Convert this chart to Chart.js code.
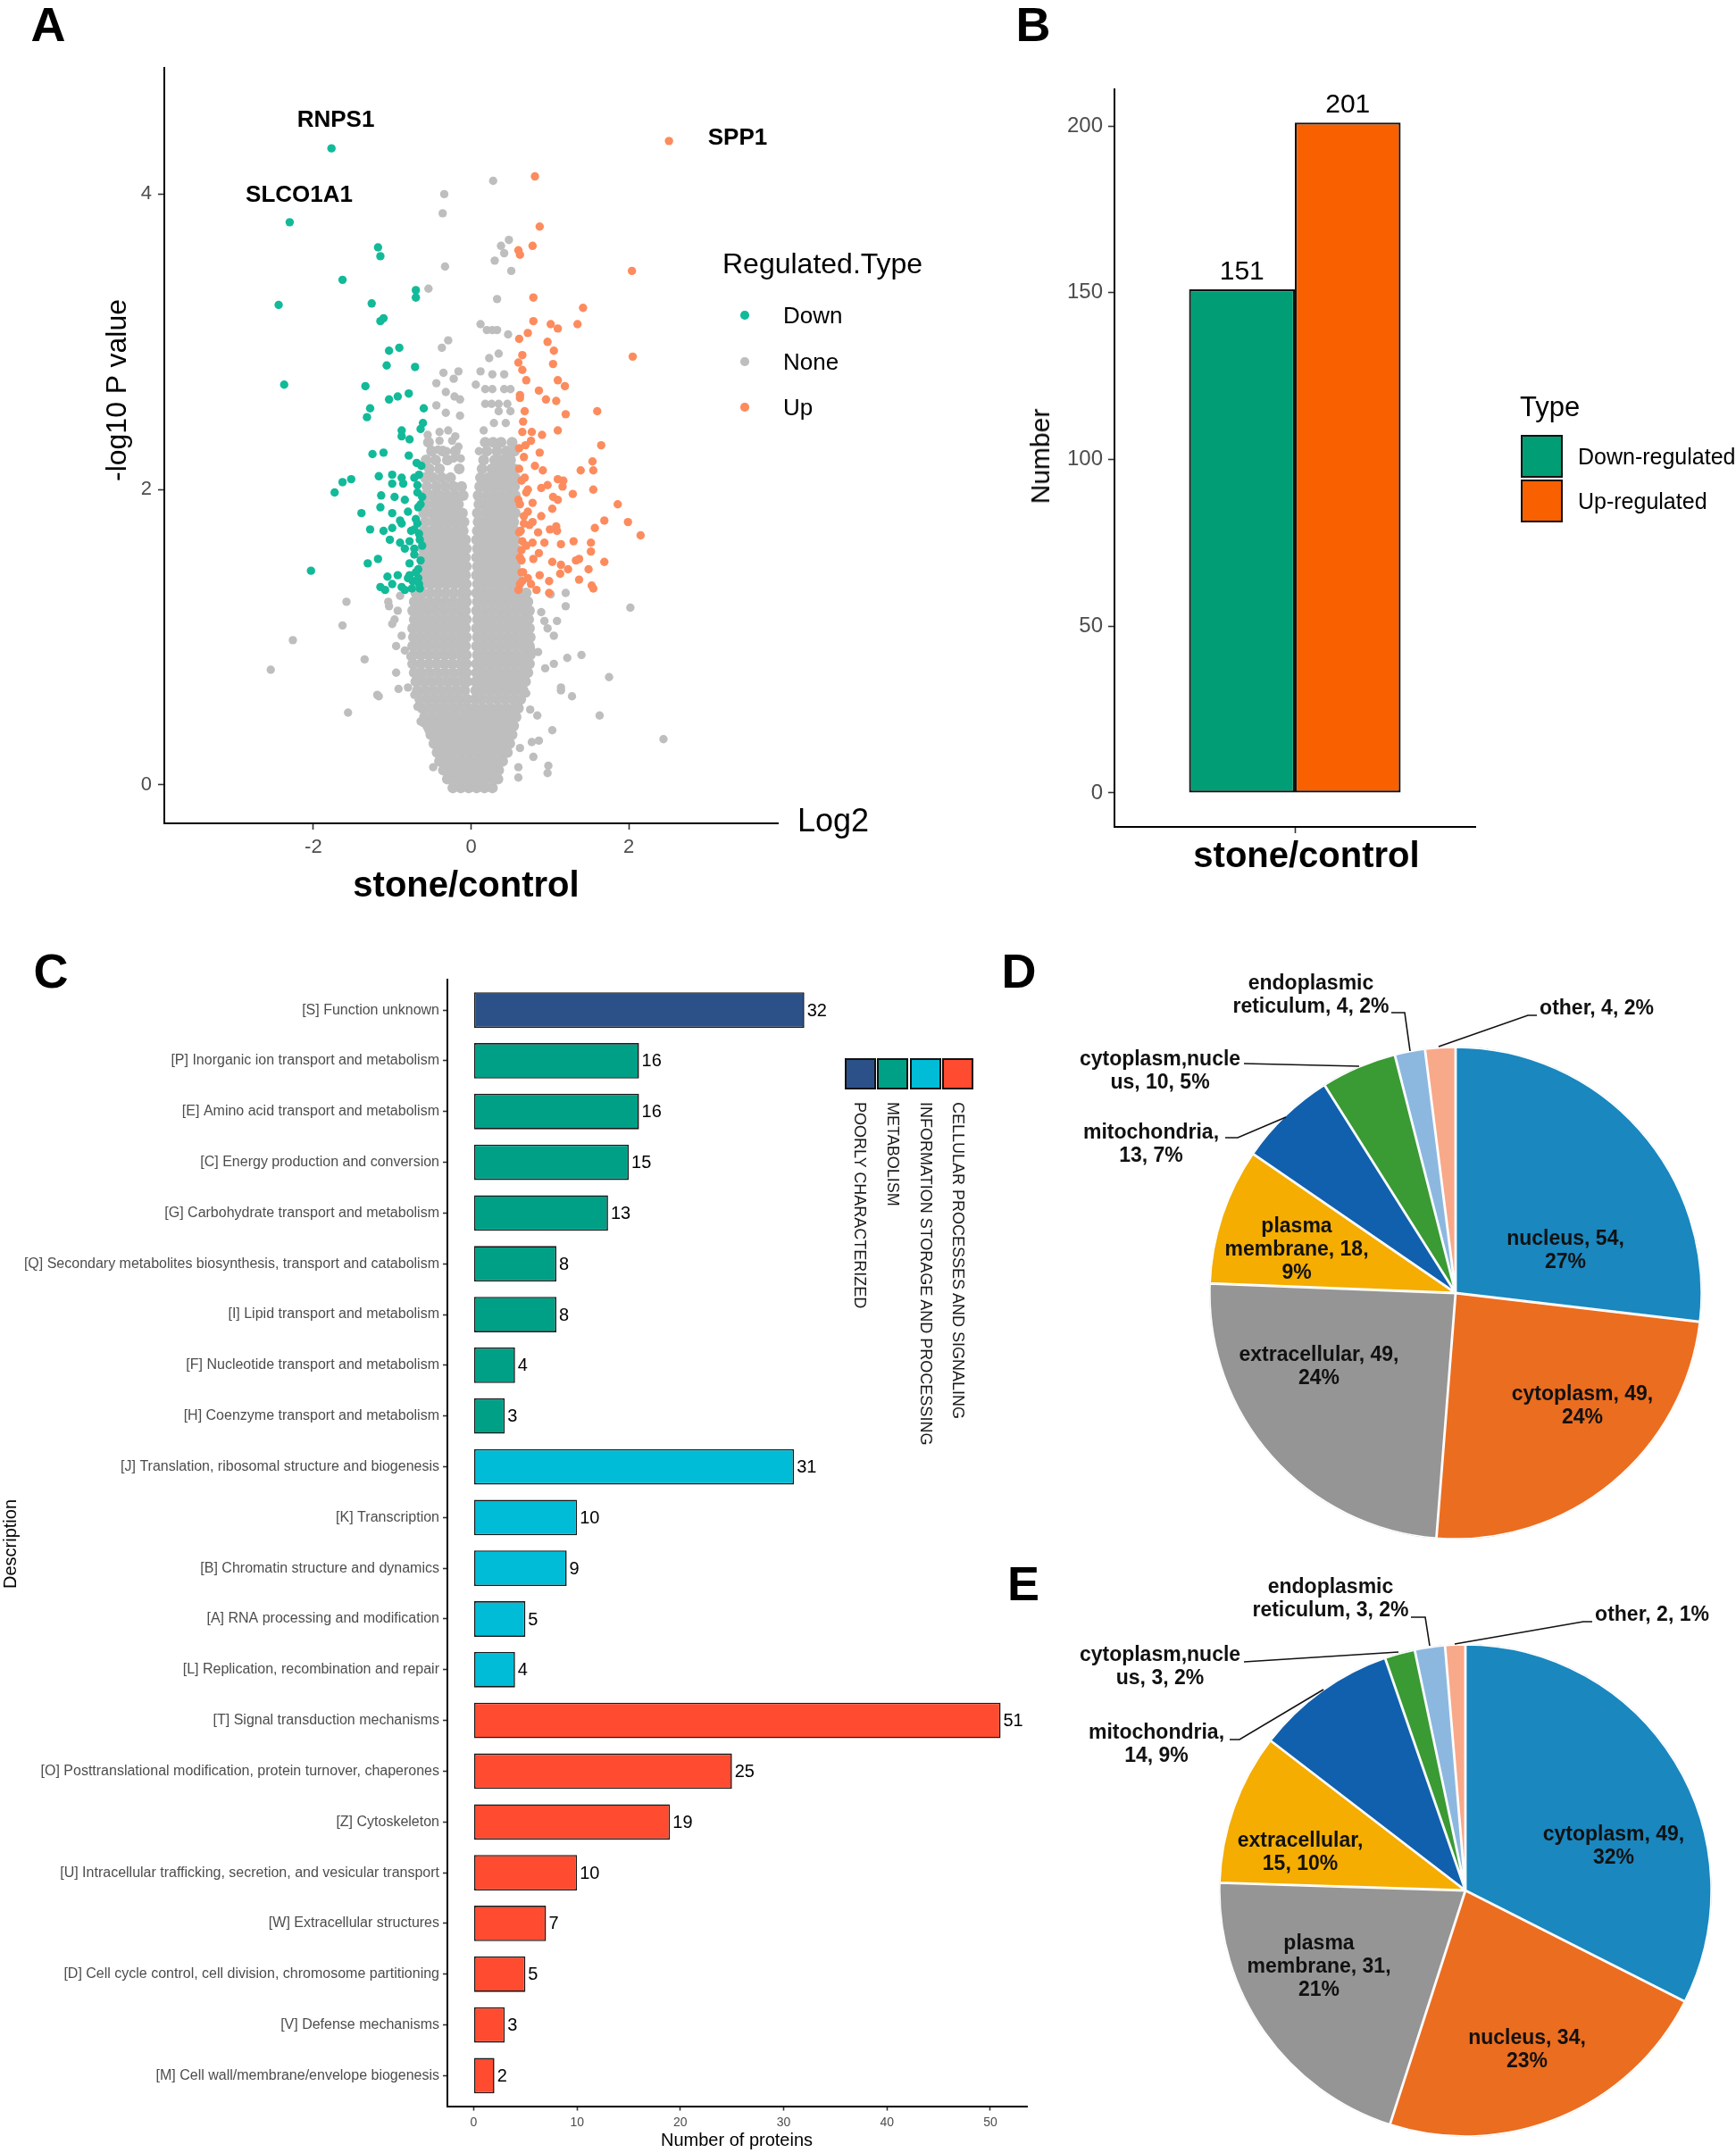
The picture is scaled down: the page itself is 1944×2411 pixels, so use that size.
<!DOCTYPE html>
<html><head><meta charset="utf-8"><title>Figure</title>
<script src="https://cdn.jsdelivr.net/npm/chart.js@4.4.1/dist/chart.umd.min.js"></script>
<style>
html,body{margin:0;padding:0;background:#fff}
#page{position:relative;width:1944px;height:2411px;overflow:hidden;background:#fff;font-family:"Liberation Sans",Arial,sans-serif}
#page canvas{position:absolute}
.t{position:absolute;white-space:pre;line-height:1}
.sq{position:absolute;box-sizing:border-box}
</style></head><body>
<div id="page">
<canvas id="cA" width="1077" height="1015" style="left:0;top:0;width:1077px;height:1015px"></canvas>
<canvas id="cB" width="867" height="1015" style="left:1077px;top:0;width:867px;height:1015px"></canvas>
<canvas id="cC" width="1170" height="1350" style="left:0;top:1061px;width:1170px;height:1350px"></canvas>
<canvas id="cD" width="774" height="677" style="left:1170px;top:1061px;width:774px;height:677px"></canvas>
<canvas id="cE" width="774" height="673" style="left:1170px;top:1738px;width:774px;height:673px"></canvas>
</div>
<script>
// ================= DATA =================
// Panel A: volcano plot (log2 fold change, -log10 p)
const regTypes = ['Down', 'None', 'Up'];
const volcanoXTicks = [-2, 0, 2];
const volcanoYTicks = [0, 2, 4];
const geneLabels = ['RNPS1', 'SLCO1A1', 'SPP1'];
const downPts = [[-1.77,4.31],[-2.30,3.81],[-1.18,3.64],[-1.15,3.58],[-1.63,3.42],[-2.44,3.25],[-1.26,3.26],[-0.70,3.35],[-0.70,3.30],[-1.11,3.16],[-1.15,3.14],[-0.91,2.96],[-1.04,2.94],[-1.07,2.84],[-0.71,2.83],[-2.37,2.71],[-1.34,2.70],[-0.93,2.63],[-1.04,2.61],[-0.79,2.65],[-1.28,2.55],[-1.32,2.49],[-0.60,2.55],[-0.61,2.45],[-0.64,2.41],[-0.88,2.40],[-0.88,2.36],[-0.78,2.34],[-1.25,2.24],[-1.11,2.25],[-0.79,2.23],[-0.69,2.18],[-1.52,2.07],[-1.63,2.05],[-1.73,1.98],[-1.17,2.09],[-1.00,2.10],[-0.88,2.08],[-0.66,2.10],[-1.00,2.04],[-0.86,2.04],[-0.68,2.03],[-1.14,1.96],[-0.97,1.95],[-0.84,1.93],[-0.62,1.95],[-1.15,1.88],[-1.39,1.84],[-1.00,1.84],[-0.80,1.85],[-0.67,1.88],[-0.90,1.79],[-0.88,1.77],[-0.68,1.77],[-1.28,1.73],[-1.11,1.72],[-1.00,1.74],[-0.72,1.73],[-1.03,1.66],[-0.90,1.64],[-0.78,1.65],[-0.65,1.66],[-1.18,1.53],[-1.31,1.50],[-0.84,1.60],[-0.72,1.56],[-2.03,1.45],[-0.78,1.50],[-0.67,1.46],[-1.06,1.41],[-0.93,1.42],[-0.80,1.40],[-0.67,1.40],[-1.15,1.34],[-1.00,1.36],[-0.88,1.34],[-0.75,1.33],[-0.65,1.33],[-1.09,1.32],[-0.84,1.32],[-0.66,1.36],[-0.70,1.44],[-0.64,1.52],[-0.72,1.60],[-0.66,1.70],[-0.70,1.80],[-0.64,1.90],[-0.68,1.98],[-0.72,2.08],[-0.63,2.16],[-0.74,1.38],[-0.78,1.42],[-0.62,1.62],[-0.76,1.72]];
const upPts = [[2.51,4.36],[0.81,4.12],[0.87,3.78],[0.78,3.65],[0.60,3.62],[0.62,3.59],[2.04,3.48],[0.79,3.30],[1.42,3.23],[0.79,3.14],[1.01,3.12],[1.35,3.12],[1.10,3.09],[0.72,3.06],[0.61,3.02],[0.97,3.00],[0.65,2.91],[1.05,2.94],[2.05,2.90],[0.60,2.86],[1.04,2.85],[0.65,2.81],[0.70,2.74],[1.10,2.74],[1.19,2.70],[0.86,2.67],[1.08,2.60],[0.62,2.64],[0.95,2.61],[0.68,2.53],[1.20,2.51],[1.60,2.53],[0.65,2.39],[0.77,2.39],[0.90,2.37],[1.10,2.40],[0.76,2.33],[0.87,2.25],[1.65,2.30],[0.67,2.22],[0.81,2.16],[1.54,2.19],[0.61,2.14],[0.91,2.13],[1.39,2.13],[1.55,2.13],[0.68,2.08],[1.10,2.07],[1.17,2.06],[0.72,2.00],[0.89,2.01],[0.97,2.03],[1.16,2.02],[1.29,1.97],[1.55,2.00],[0.60,1.93],[0.78,1.91],[1.04,1.95],[1.10,1.93],[1.03,1.87],[0.72,1.85],[0.89,1.82],[1.86,1.90],[0.67,1.77],[0.78,1.78],[1.08,1.75],[1.69,1.79],[1.99,1.78],[0.61,1.71],[0.85,1.71],[1.00,1.73],[1.09,1.72],[1.30,1.65],[2.15,1.69],[1.57,1.74],[0.65,1.65],[0.78,1.64],[0.93,1.64],[1.14,1.63],[1.52,1.64],[0.64,1.59],[0.86,1.57],[1.52,1.58],[1.33,1.52],[1.69,1.51],[0.64,1.52],[0.79,1.53],[1.03,1.51],[1.14,1.49],[1.23,1.46],[1.37,1.53],[1.49,1.46],[0.64,1.44],[0.87,1.42],[1.13,1.43],[0.65,1.38],[0.76,1.36],[0.99,1.38],[1.53,1.35],[1.55,1.33],[0.60,1.32],[0.83,1.32],[1.37,1.39],[0.99,1.30],[0.62,1.36],[0.66,1.44],[0.62,1.54],[0.70,1.62],[0.63,1.72],[0.67,1.82],[0.62,1.90],[0.70,1.98],[0.64,2.06],[0.61,2.28],[0.66,2.46],[0.72,1.40],[0.74,1.76],[0.69,2.30],[0.62,2.62]];
// non-significant proteins: scattered points
const noneScatter = [[-0.34,4.00],[-0.36,3.87],[0.28,4.09],[-0.33,3.51],[0.48,3.69],[0.38,3.65],[0.42,3.60],[0.30,3.55],[0.51,3.48],[-0.54,3.36],[0.33,3.29],[0.12,3.12],[0.20,3.08],[0.27,3.08],[0.33,3.08],[0.47,3.05],[-0.29,3.01],[-0.37,2.96],[0.23,2.89],[0.35,2.92],[-0.35,2.79],[-0.16,2.80],[-0.44,2.72],[-0.22,2.75],[0.12,2.80],[0.27,2.78],[0.42,2.78],[0.06,2.71],[0.18,2.68],[0.27,2.68],[0.42,2.68],[0.50,2.68],[-0.32,2.66],[-0.21,2.63],[-0.14,2.61],[-0.44,2.57],[0.18,2.58],[0.26,2.58],[0.35,2.58],[0.46,2.58],[-0.32,2.52],[-0.14,2.50],[0.35,2.53],[0.50,2.53],[0.16,2.40],[-0.40,2.39],[-0.29,2.40],[-0.20,2.36],[-0.55,2.37],[-0.24,2.33],[-0.16,2.29],[0.29,2.45],[0.44,2.45],[-0.40,2.33],[-0.51,2.27],[-0.42,2.27],[0.10,2.26],[-0.31,2.26],[-0.22,2.21],[-0.13,2.21],
 [-1.58,1.24],[-1.63,1.08],[-2.26,0.98],[-2.54,0.78],[-1.35,0.85],[-1.56,0.49],[2.02,1.20],[1.75,0.73],[1.40,0.88],[1.63,0.47],[2.44,0.31],[0.97,0.08],[1.28,0.60],[1.14,0.66],[-1.19,0.61],[-1.04,1.21],[-1.00,1.09],[0.79,0.19],[0.60,0.05],[-0.61,0.42],
 [-1.17,0.60],[-0.95,0.76],[-0.95,0.94],[-0.97,1.12],[-0.93,1.18],[-1.05,1.24],[-0.90,1.28],[-0.88,1.01],[-0.84,0.91],[-0.77,0.87],[-0.92,0.65],[-0.80,0.66],[-0.72,0.61],[-0.68,0.53],[-0.64,0.43],[-0.54,0.37],[-0.48,0.12],[-0.40,0.16],[1.01,1.29],[1.20,1.30],[1.20,1.21],[1.09,1.11],[0.97,1.06],[1.05,1.01],[1.22,0.86],[0.94,0.79],[1.05,0.82],[1.14,0.64],[1.03,0.37],[0.75,0.51],[0.84,0.47],[0.77,0.29],[0.86,0.30],[0.60,0.12],[0.98,0.13],[0.62,0.25],[0.70,0.62],[0.89,1.17],[0.93,1.11],[0.76,0.92],[0.85,0.90]];
// non-significant proteins: dense core, one row per -log10 p level
const noneRows = [
 [-0.02,[-0.23,-0.13,-0.03,0.07,0.17,0.27]],
 [0.04,[-0.30,-0.20,-0.10,0,0.10,0.20,0.30,0.34]],
 [0.10,[-0.35,-0.25,-0.15,-0.05,0.05,0.15,0.25,0.35]],
 [0.16,[-0.40,-0.30,-0.20,-0.10,0,0.10,0.20,0.30,0.40]],
 [0.22,[-0.43,-0.33,-0.23,-0.13,-0.03,0.07,0.17,0.27,0.37,0.46]],
 [0.28,[-0.47,-0.37,-0.27,-0.17,-0.07,0.03,0.13,0.23,0.33,0.43,0.49]],
 [0.34,[-0.51,-0.41,-0.31,-0.21,-0.11,-0.01,0.09,0.19,0.29,0.39,0.49,0.52]],
 [0.40,[-0.55,-0.45,-0.35,-0.25,-0.15,-0.05,0.05,0.15,0.25,0.35,0.45,0.54]],
 [0.46,[-0.59,-0.49,-0.39,-0.29,-0.19,-0.09,0.01,0.11,0.21,0.31,0.41,0.51,0.57]],
 [0.52,[-0.62,-0.52,-0.42,-0.32,-0.22,-0.12,-0.04,0.05,0.15,0.25,0.35,0.45,0.55,0.60]],
 [0.58,[-0.65,-0.55,-0.45,-0.35,-0.25,-0.15,-0.05,0.05,0.13,0.23,0.33,0.43,0.53,0.63]],
 [0.64,[-0.68,-0.58,-0.48,-0.38,-0.28,-0.18,-0.08,0.06,0.16,0.26,0.36,0.46,0.56,0.66]],
 [0.70,[-0.70,-0.60,-0.50,-0.40,-0.30,-0.20,-0.10,-0.05,0.06,0.12,0.22,0.32,0.42,0.52,0.62,0.69]],
 [0.76,[-0.72,-0.63,-0.53,-0.43,-0.33,-0.23,-0.13,-0.06,0.07,0.17,0.27,0.37,0.47,0.57,0.67,0.72]],
 [0.82,[-0.74,-0.64,-0.54,-0.44,-0.34,-0.24,-0.14,-0.06,0.07,0.14,0.24,0.34,0.44,0.54,0.64,0.74]],
 [0.88,[-0.73,-0.63,-0.53,-0.43,-0.33,-0.23,-0.13,-0.06,0.08,0.18,0.28,0.38,0.48,0.58,0.68,0.75]],
 [0.94,[-0.74,-0.66,-0.56,-0.46,-0.36,-0.26,-0.16,-0.07,0.07,0.15,0.25,0.35,0.45,0.55,0.65,0.74]],
 [1.00,[-0.73,-0.63,-0.53,-0.43,-0.33,-0.23,-0.13,-0.06,0.08,0.18,0.28,0.38,0.48,0.58,0.68,0.75]],
 [1.06,[-0.74,-0.66,-0.56,-0.46,-0.36,-0.26,-0.16,-0.07,0.07,0.15,0.25,0.35,0.45,0.55,0.65,0.74]],
 [1.12,[-0.72,-0.63,-0.53,-0.43,-0.33,-0.23,-0.13,-0.06,0.08,0.18,0.28,0.38,0.48,0.58,0.68,0.73]],
 [1.18,[-0.74,-0.66,-0.56,-0.46,-0.36,-0.26,-0.16,-0.07,0.07,0.15,0.25,0.35,0.45,0.55,0.65,0.74]],
 [1.24,[-0.72,-0.63,-0.53,-0.43,-0.33,-0.23,-0.13,-0.06,0.08,0.18,0.28,0.38,0.48,0.58,0.68,0.72]],
 [1.30,[-0.70,-0.62,-0.52,-0.42,-0.32,-0.22,-0.12,-0.06,0.07,0.14,0.24,0.34,0.44,0.54,0.64,0.70]],
 [1.36,[-0.61,-0.51,-0.41,-0.31,-0.21,-0.11,-0.06,0.08,0.18,0.28,0.38,0.48,0.56]],
 [1.42,[-0.62,-0.56,-0.46,-0.36,-0.26,-0.16,-0.07,0.07,0.13,0.23,0.33,0.43,0.53,0.57]],
 [1.48,[-0.61,-0.51,-0.41,-0.31,-0.21,-0.11,-0.06,0.08,0.18,0.28,0.38,0.48,0.56]],
 [1.54,[-0.62,-0.56,-0.46,-0.36,-0.26,-0.16,-0.07,0.07,0.13,0.23,0.33,0.43,0.53,0.57]],
 [1.60,[-0.61,-0.51,-0.41,-0.31,-0.21,-0.11,-0.06,0.08,0.18,0.28,0.38,0.48,0.56]],
 [1.66,[-0.60,-0.55,-0.45,-0.35,-0.25,-0.15,-0.07,0.07,0.13,0.23,0.33,0.43,0.53,0.56]],
 [1.72,[-0.60,-0.50,-0.40,-0.30,-0.20,-0.10,0.08,0.18,0.28,0.38,0.48,0.56]],
 [1.78,[-0.58,-0.47,-0.37,-0.27,-0.17,-0.09,0.09,0.14,0.24,0.34,0.44,0.54]],
 [1.84,[-0.60,-0.50,-0.40,-0.30,-0.20,-0.11,0.08,0.19,0.29,0.39,0.49,0.56]],
 [1.90,[-0.57,-0.46,-0.36,-0.26,-0.16,0.10,0.15,0.25,0.35,0.45,0.55]],
 [1.96,[-0.59,-0.50,-0.40,-0.30,-0.20,-0.10,0.09,0.20,0.30,0.40,0.50,0.56]],
 [2.02,[-0.56,-0.44,-0.33,-0.22,-0.12,0.11,0.17,0.27,0.37,0.47,0.55]],
 [2.08,[-0.58,-0.48,-0.37,-0.26,0.12,0.22,0.32,0.42,0.52,0.56]],
 [2.14,[-0.53,-0.40,-0.15,0.14,0.26,0.36,0.46,0.55]],
 [2.20,[-0.57,-0.45,-0.30,0.16,0.30,0.40,0.50]],
 [2.26,[-0.50,-0.36,-0.20,0.20,0.33,0.45,0.55]],
 [2.32,[-0.54,0.18,0.28,0.38,0.52]]
];

// Panel B: counts of regulated proteins
const regCategories = ['stone/control'];
const regSeries = ['Down-regulated', 'Up-regulated'];
const regCounts = [151, 201];
const regYTicks = [0, 50, 100, 150, 200];

// Panel C: COG classification
const cogLabels = ['[S] Function unknown','[P] Inorganic ion transport and metabolism','[E] Amino acid transport and metabolism','[C] Energy production and conversion','[G] Carbohydrate transport and metabolism','[Q] Secondary metabolites biosynthesis, transport and catabolism','[I] Lipid transport and metabolism','[F] Nucleotide transport and metabolism','[H] Coenzyme transport and metabolism','[J] Translation, ribosomal structure and biogenesis','[K] Transcription','[B] Chromatin structure and dynamics','[A] RNA processing and modification','[L] Replication, recombination and repair','[T] Signal transduction mechanisms','[O] Posttranslational modification, protein turnover, chaperones','[Z] Cytoskeleton','[U] Intracellular trafficking, secretion, and vesicular transport','[W] Extracellular structures','[D] Cell cycle control, cell division, chromosome partitioning','[V] Defense mechanisms','[M] Cell wall/membrane/envelope biogenesis'];
const cogValues = [32,16,16,15,13,8,8,4,3,31,10,9,5,4,51,25,19,10,7,5,3,2];
const cogGroup = [0,1,1,1,1,1,1,1,1,2,2,2,2,2,3,3,3,3,3,3,3,3];
const cogGroupNames = ['POORLY CHARACTERIZED','METABOLISM','INFORMATION STORAGE AND PROCESSING','CELLULAR PROCESSES AND SIGNALING'];
const cogXTicks = [0, 10, 20, 30, 40, 50];

// Panel D: subcellular localization
const locNamesD = ['nucleus','cytoplasm','extracellular','plasma\nmembrane','mitochondria','cytoplasm,nucle\nus','endoplasmic\nreticulum','other'];
const locValuesD = [54, 49, 49, 18, 13, 10, 4, 4];
const locPctD = [27, 24, 24, 9, 7, 5, 2, 2];
// Panel E
const locNamesE = ['cytoplasm','nucleus','plasma\nmembrane','extracellular','mitochondria','cytoplasm,nucle\nus','endoplasmic\nreticulum','other'];
const locValuesE = [49, 34, 31, 15, 14, 3, 3, 2];
const locPctE = [32, 23, 21, 10, 9, 2, 2, 1];

// ================= STYLE =================
const F = '"Liberation Sans", Arial, sans-serif';
const COL = {
  down: '#12BA99', none: '#BEBEBE', up: '#FC8C5E',
  reg: ['#019E76', '#F86000'],
  cog: ['#2C5189', '#00A087', '#00BCD6', '#FF4B30'],
  pie: ['#1A87BF', '#EB6D20', '#959595', '#F4AD00', '#1160AE', '#3A9A34', '#8CB8E0', '#F8A98A']
};
Chart.defaults.font.family = F;
const page = document.getElementById('page');

function T(text, x, y, o = {}) {
  const d = document.createElement('div');
  d.className = 't';
  d.textContent = text;
  d.style.left = x + 'px';
  d.style.top = y + 'px';
  d.style.fontSize = (o.size || 20) + 'px';
  if (o.bold) d.style.fontWeight = 'bold';
  d.style.color = o.color || '#000';
  const ax = o.align === 'left' ? '0%' : (o.align === 'right' ? '-100%' : '-50%');
  d.style.transform = 'translate(' + ax + ',-50%)' + (o.rot ? ' rotate(' + o.rot + 'deg)' : '');
  page.appendChild(d);
  return d;
}
function SQ(x, y, w, h, bg, border, round) {
  const d = document.createElement('div');
  d.className = 'sq';
  Object.assign(d.style, {left: x + 'px', top: y + 'px', width: w + 'px', height: h + 'px', background: bg});
  if (border) d.style.border = border;
  if (round) d.style.borderRadius = '50%';
  page.appendChild(d);
}
function axis(fs, pad, tl, extra) {
  return Object.assign({
    border: {display: true, color: '#000', width: 2},
    grid: {display: true, drawOnChartArea: false, drawTicks: true, tickLength: tl, tickColor: '#333', tickWidth: 1.6},
    ticks: {color: '#4d4d4d', font: {size: fs, family: F}, padding: pad, maxRotation: 0, autoSkip: false}
  }, extra);
}
const fixedTicks = arr => s => { s.ticks = arr.map(v => ({value: v})); };

const barValues = {
  id: 'barValues',
  afterDatasetsDraw(chart, args, o) {
    const ctx = chart.ctx; ctx.save();
    ctx.font = o.fontStr; ctx.fillStyle = '#000';
    chart.data.datasets.forEach((ds, di) => {
      chart.getDatasetMeta(di).data.forEach((el, i) => {
        const raw = ds.data[i]; const v = (typeof raw === 'object') ? raw.x : raw;
        if (o.horizontal) { ctx.textAlign = 'left'; ctx.textBaseline = 'middle'; ctx.fillText(String(v), el.x + o.offset, el.y + 1); }
        else { ctx.textAlign = 'center'; ctx.textBaseline = 'alphabetic'; ctx.fillText(String(v), el.x, el.y - o.offset); }
      });
    });
    ctx.restore();
  }
};

const pieLabels = {
  id: 'pieLabels',
  afterDraw(chart, args, o) {
    const arc = chart.getDatasetMeta(0).data[0];
    const cx = arc.x, cy = arc.y, ctx = chart.ctx;
    ctx.save();
    ctx.strokeStyle = '#111'; ctx.lineWidth = 1.6;
    o.leaders.forEach(pts => {
      ctx.beginPath();
      pts.forEach(([x, y], i) => i ? ctx.lineTo(cx + x, cy + y) : ctx.moveTo(cx + x, cy + y));
      ctx.stroke();
    });
    ctx.font = 'bold 23px ' + F; ctx.fillStyle = '#111';
    ctx.textAlign = 'center'; ctx.textBaseline = 'middle';
    const names = chart.data.labels, vals = chart.data.datasets[0].data;
    o.pos.forEach((p, i) => {
      const n = names[i], v = vals[i], pc = o.pct[i];
      let s;
      if (p.form === 'A') s = n + ', ' + v + ',\n' + pc + '%';
      else if (p.form === 'B') s = n + ',\n' + v + ', ' + pc + '%';
      else s = n + ', ' + v + ', ' + pc + '%';
      s.split('\n').forEach((ln, k) => ctx.fillText(ln, cx + p.x, cy + p.y + k * o.lh));
    });
    ctx.restore();
  }
};

// ================= PANEL A =================
const pt = a => ({x: a[0], y: a[1]});
const noneCore = [].concat(...noneRows.map(([y, xs]) => xs.map(x => [x, y])));
new Chart(document.getElementById('cA'), {
  type: 'scatter',
  data: {datasets: [
    {label: regTypes[0], data: downPts.map(pt), backgroundColor: COL.down, pointRadius: 4.7, borderWidth: 0, order: 1},
    {label: regTypes[2], data: upPts.map(pt), backgroundColor: COL.up, pointRadius: 4.7, borderWidth: 0, order: 1},
    {label: regTypes[1], data: noneScatter.map(pt), backgroundColor: COL.none, pointRadius: 4.7, borderWidth: 0, order: 2},
    {label: regTypes[1], data: noneCore.map(pt), backgroundColor: COL.none, pointRadius: 6.1, borderWidth: 0, order: 3}
  ]},
  options: {
    responsive: false, animation: false, devicePixelRatio: 1,
    layout: {padding: {left: 0, top: 76, right: 206, bottom: 0}},
    plugins: {legend: {display: false}, tooltip: {enabled: false}},
    scales: {
      x: axis(22, 7, 7, {type: 'linear', min: -3.89, max: 3.89, afterBuildTicks: fixedTicks(volcanoXTicks), afterFit: s => { s.height = 93; }}),
      y: axis(22, 7, 7, {type: 'linear', min: -0.26, max: 4.855, afterBuildTicks: fixedTicks(volcanoYTicks), afterFit: s => { s.width = 184; }})
    }
  }
});
T('A', 54, 27, {size: 54, bold: true});
T('-log10 P value', 130, 437, {size: 32, rot: -90});
T('stone/control', 522, 990, {size: 40, bold: true});
T('Log2', 933, 919, {size: 36});
T(geneLabels[0], 376, 133, {size: 26, bold: true});
T(geneLabels[1], 335, 217, {size: 26, bold: true});
T(geneLabels[2], 826, 153, {size: 26, bold: true});
T('Regulated.Type', 809, 295, {size: 32, align: 'left'});
[[COL.down, 353], [COL.none, 405], [COL.up, 456]].forEach(([c, y], i) => {
  SQ(834 - 4.7, y - 4.7, 9.4, 9.4, c, null, true);
  T(regTypes[i], 877, y, {size: 26, align: 'left'});
});

// ================= PANEL B =================
new Chart(document.getElementById('cB'), {
  type: 'bar',
  data: {labels: regCategories, datasets: regSeries.map((s, i) => ({
    label: s, data: [regCounts[i]], backgroundColor: COL.reg[i], borderColor: '#111', borderWidth: 2.2,
    borderSkipped: false, categoryPercentage: 0.5866, barPercentage: 1
  }))},
  options: {
    responsive: false, animation: false, devicePixelRatio: 1,
    layout: {padding: {left: 0, top: 100, right: 292, bottom: 0}},
    plugins: {legend: {display: false}, tooltip: {enabled: false}, barValues: {fontStr: '30px ' + F, horizontal: false, offset: 11}},
    scales: {
      x: axis(40, 3, 7, {type: 'category', offset: true, grid: {display: true, offset: false, drawOnChartArea: false, drawTicks: true, tickLength: 7, tickColor: '#333', tickWidth: 1.6},
        ticks: {color: '#000', font: {size: 40, weight: 'bold', family: F}, padding: 3, maxRotation: 0, labelOffset: 13}, afterFit: s => { s.height = 89; }}),
      y: axis(24, 6, 7, {type: 'linear', min: -10.2, max: 211, afterBuildTicks: fixedTicks(regYTicks), afterFit: s => { s.width = 171; }})
    }
  },
  plugins: [barValues]
});
T('B', 1157, 27, {size: 54, bold: true});
T('Number', 1165, 511, {size: 30, rot: -90});
T('Type', 1702, 455, {size: 31, align: 'left'});
SQ(1703, 487, 47, 48, COL.reg[0], '2px solid #111');
SQ(1703, 537, 47, 48, COL.reg[1], '2px solid #111');
T(regSeries[0], 1767, 511, {size: 25, align: 'left'});
T(regSeries[1], 1767, 561, {size: 25, align: 'left'});

// ================= PANEL C =================
new Chart(document.getElementById('cC'), {
  type: 'bar',
  data: {datasets: [{
    data: cogValues.map((v, i) => ({x: v, y: i})),
    backgroundColor: cogGroup.map(g => COL.cog[g]),
    borderColor: '#1a1a1a', borderWidth: 1.6, borderSkipped: false,
    categoryPercentage: 1, barPercentage: 0.7
  }]},
  options: {
    indexAxis: 'y', responsive: false, animation: false, devicePixelRatio: 1,
    layout: {padding: {left: 0, top: 36, right: 20, bottom: 0}},
    plugins: {legend: {display: false}, tooltip: {enabled: false}, barValues: {fontStr: '20px ' + F, horizontal: true, offset: 3}},
    scales: {
      x: axis(14, 5, 5, {type: 'linear', position: 'bottom', offset: false, min: -2.55, max: 53.55, afterBuildTicks: fixedTicks(cogXTicks), afterFit: s => { s.height = 52.5; }}),
      y: axis(16, 4, 5, {type: 'linear', reverse: true, offset: false, min: -0.6, max: 21.6,
        grid: {display: true, offset: false, drawOnChartArea: false, drawTicks: true, tickLength: 5, tickColor: '#333', tickWidth: 1.6},
        afterBuildTicks: s => { s.ticks = cogLabels.map((_, i) => ({value: i})); },
        ticks: {color: '#4d4d4d', font: {size: 16, family: F}, padding: 4, autoSkip: false, callback: v => cogLabels[Math.round(v)]},
        afterFit: s => { s.width = 501; }})
    }
  },
  plugins: [barValues]
});
T('C', 57, 1087, {size: 54, bold: true});
T('Description', 11, 1729, {size: 20, rot: -90});
T('Number of proteins', 825, 2396, {size: 20});
[945.6, 982, 1019, 1055.4].forEach((x, g) => {
  SQ(x, 1185, 35, 35, COL.cog[g], '2px solid #111');
  const d = T(cogGroupNames[g], x + 17.5 + 9, 1234, {size: 18, align: 'left', color: '#1a1a1a'});
  d.style.transformOrigin = '0 0';
  d.style.transform = 'rotate(90deg)';
});

// ================= PANELS D, E =================
function pie(id, names, values, pct, pad, layout) {
  new Chart(document.getElementById(id), {
    type: 'pie',
    data: {labels: names, datasets: [{data: values, backgroundColor: COL.pie, borderColor: '#fff', borderWidth: 1.4, borderAlign: 'inner'}]},
    options: {
      responsive: false, animation: false, devicePixelRatio: 1, radius: 276,
      layout: {padding: pad},
      plugins: {legend: {display: false}, tooltip: {enabled: false}, pieLabels: Object.assign({pct: pct, lh: 26}, layout)}
    },
    plugins: [pieLabels]
  });
}
pie('cD', locNamesD, locValuesD, locPctD, {left: 180, right: 34, top: 107, bottom: 10}, {
  pos: [
    {x: 123, y: -60, form: 'A'}, {x: 142, y: 114, form: 'A'}, {x: -153, y: 70, form: 'A'},
    {x: -178, y: -74, form: 'A'}, {x: -341, y: -179, form: 'B'}, {x: -331, y: -261, form: 'C'},
    {x: -162, y: -346, form: 'C'}, {x: 158, y: -318, form: 'C'}
  ],
  leaders: [
    [[-258, -174], [-244, -174], [-190, -197]],
    [[-237, -257], [-108, -254]],
    [[-72, -314], [-57, -314], [-51, -271]],
    [[91, -311], [81, -311], [-19, -276]]
  ]
});
pie('cE', locNamesE, locValuesE, locPctE, {left: 191, right: 23, top: 99, bottom: 14}, {
  pos: [
    {x: 166, y: -62, form: 'A'}, {x: 69, y: 166, form: 'A'}, {x: -164, y: 60, form: 'A'},
    {x: -185, y: -55, form: 'B'}, {x: -346, y: -176, form: 'B'}, {x: -342, y: -263, form: 'C'},
    {x: -151, y: -339, form: 'C'}, {x: 209, y: -308, form: 'C'}
  ],
  leaders: [
    [[-264, -169], [-253, -169], [-159, -225]],
    [[-248, -256], [-75, -267]],
    [[-61, -306], [-45, -306], [-40, -274]],
    [[142, -301], [132, -301], [-12, -276]]
  ]
});
T('D', 1141, 1087, {size: 54, bold: true});
T('E', 1146, 1773, {size: 54, bold: true});
</script>
</body></html>
